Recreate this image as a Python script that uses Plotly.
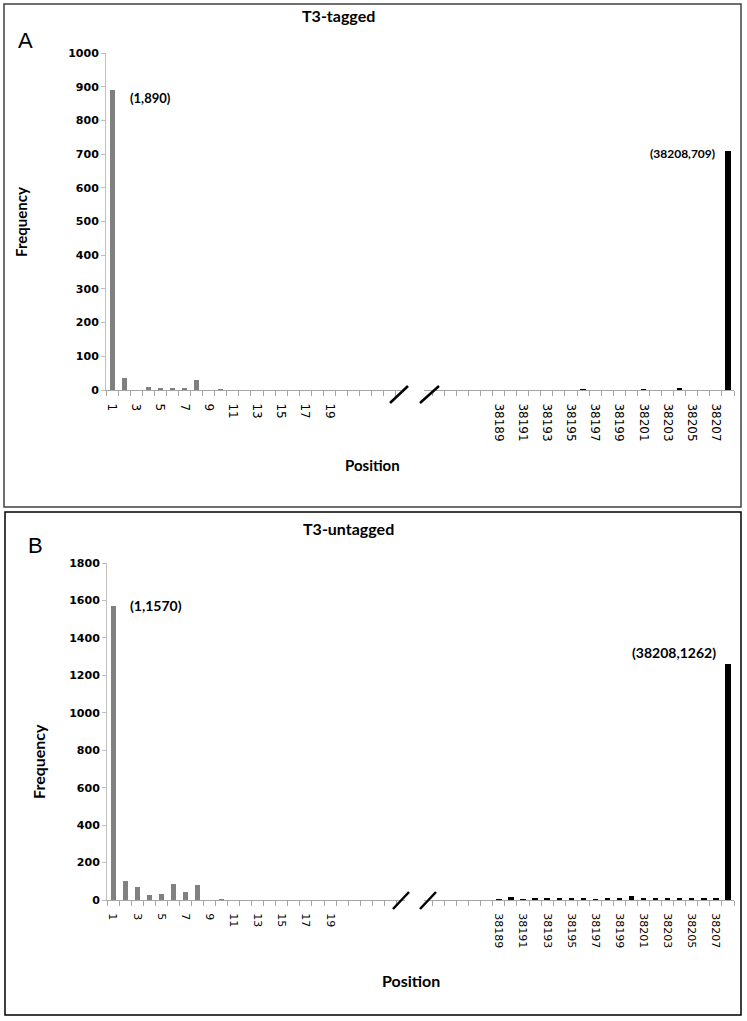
import plotly.graph_objects as go

# ---------------- data ----------------
left_positions = list(range(1, 21))
right_positions = list(range(38189, 38209))

tagged_left = [890, 35, 0, 8, 6, 3, 3, 30, 0, 2, 0, 0, 0, 0, 0, 0, 0, 0, 0, 0]
tagged_right = [0, 0, 0, 0, 0, 0, 0, 2, 0, 0, 0, 0, 1, 0, 0, 5, 0, 0, 0, 709]

untagged_left = [1570, 100, 70, 27, 30, 85, 42, 80, 0, 3, 0, 0, 0, 0, 0, 0, 0, 0, 0, 0]
untagged_right = [3, 14, 4, 10, 10, 11, 13, 10, 5, 10, 12, 24, 11, 13, 10, 11, 10, 6, 12, 1262]

left_tick_labels = ["1", "3", "5", "7", "9", "11", "13", "15", "17", "19"]
right_tick_labels = ["38189", "38191", "38193", "38195", "38197",
                     "38199", "38201", "38203", "38205", "38207"]

GAP = 12  # empty slots between the two segments of the broken axis

W, H = 747, 1021


def px(x):
    return x / W


def py(y):
    return 1 - y / H


def idx_left(p):
    return left_positions.index(p)


def idx_right(p):
    return len(left_positions) + GAP + right_positions.index(p)


left_idx = [idx_left(p) for p in left_positions]
right_idx = [idx_right(p) for p in right_positions]
n_slots = len(left_positions) + GAP + len(right_positions)

tickvals = [idx_left(int(t)) for t in left_tick_labels] + [idx_right(int(t)) for t in right_tick_labels]
ticktext = left_tick_labels + right_tick_labels

fig = go.Figure()

panels = [
    dict(left=tagged_left, right=tagged_right, xa="x", ya="y", xa2="xaxis", ya2="yaxis",
         ymax=1000, dy=100, xdom=(106, 734), y0=390, y1=53, tfs=12),
    dict(left=untagged_left, right=untagged_right, xa="x2", ya="y2", xa2="xaxis2", ya2="yaxis2",
         ymax=1800, dy=200, xdom=(107, 734), y0=900, y1=563, tfs=11),
]

for p in panels:
    fig.add_trace(go.Bar(x=left_idx, y=p["left"], marker_color="#808080", marker_line_width=0,
                         width=0.42, xaxis=p["xa"], yaxis=p["ya"], showlegend=False))
    fig.add_trace(go.Bar(x=right_idx, y=p["right"], marker_color="#000000", marker_line_width=0,
                         width=0.44, xaxis=p["xa"], yaxis=p["ya"], showlegend=False))
    fig.layout[p["xa2"]] = dict(
        domain=[px(p["xdom"][0]), px(p["xdom"][1])],
        anchor=p["ya"], range=[-0.5, n_slots - 0.5],
        showgrid=False, zeroline=False,
        showline=True, linecolor="#a6a6a6", linewidth=1,
        tickmode="array", tickvals=tickvals, ticktext=ticktext,
        tickangle=90, ticks="", ticklabelstandoff=10,
        tickfont=dict(family="DejaVu Sans", size=p["tfs"], color="#000000"),
        minor=dict(tickmode="array", tickvals=[i - 0.5 for i in range(n_slots + 1)],
                   ticks="outside", ticklen=5, tickcolor="#a6a6a6", tickwidth=1, showgrid=False),
        fixedrange=True, automargin=False,
    )
    fig.layout[p["ya2"]] = dict(
        domain=[py(p["y0"]), py(p["y1"])],
        anchor=p["xa"], range=[0, p["ymax"]],
        tickmode="array", tickvals=list(range(0, p["ymax"] + 1, p["dy"])),
        showgrid=False, zeroline=False,
        showline=True, linecolor="#c0c0c0", linewidth=1,
        ticks="outside", ticklen=4, tickcolor="#c0c0c0",
        tickfont=dict(family="DejaVu Sans", size=11, color="#000000", weight="bold"),
        fixedrange=True, automargin=False,
    )

shapes = []
# panel borders
shapes.append(dict(type="rect", xref="paper", yref="paper", x0=px(4), x1=px(741), y0=py(507), y1=py(4),
                   line=dict(color="#404040", width=1.5), fillcolor="rgba(0,0,0,0)"))
shapes.append(dict(type="rect", xref="paper", yref="paper", x0=px(5), x1=px(741), y0=py(1015), y1=py(512),
                   line=dict(color="#000000", width=1.5), fillcolor="rgba(0,0,0,0)"))
# axis break marks
for (ay, s1, s2) in [(390, (390, 403, 408, 386), (420, 403, 439, 386)),
                     (900, (393, 909, 409, 892), (420, 909, 436, 892))]:
    shapes.append(dict(type="rect", xref="paper", yref="paper", x0=px(405), x1=px(424),
                       y0=py(ay + 6), y1=py(ay - 2), line=dict(width=0), fillcolor="white"))
    for s in (s1, s2):
        shapes.append(dict(type="line", xref="paper", yref="paper", x0=px(s[0]), y0=py(s[1]),
                           x1=px(s[2]), y1=py(s[3]), line=dict(color="#000000", width=2.5)))

ann = []


def text(x, y, t, size, bold=True, family="Lato", angle=0, xanchor="center"):
    ann.append(dict(xref="paper", yref="paper", x=px(x), y=py(y), text=t, showarrow=False,
                    xanchor=xanchor, yanchor="middle", textangle=angle,
                    font=dict(family=family, size=size, color="#000000",
                              weight="bold" if bold else "normal")))


text(338, 16, "T3-tagged", 16)
text(25, 41, "A", 22, bold=False, family="Liberation Sans")
text(21, 222, "Frequency", 15, angle=-90)
text(372, 465, "Position", 15)
text(128, 98, "(1,890)", 13, xanchor="left")
text(717, 154, "(38208,709)", 12, xanchor="right")

text(348, 528, "T3-untagged", 16)
text(35, 545, "B", 22, bold=False, family="Liberation Sans")
text(38, 762, "Frequency", 16, angle=-90)
text(411, 980, "Position", 16)
text(128, 605, "(1,1570)", 14, xanchor="left")
text(718, 652, "(38208,1262)", 14, xanchor="right")

fig.update_layout(
    width=W, height=H,
    margin=dict(l=0, r=0, t=0, b=0, autoexpand=False),
    paper_bgcolor="white", plot_bgcolor="white",
    shapes=shapes, annotations=ann,
    bargap=0, showlegend=False,
)

fig.write_html(
    "out.html",
    config={"displayModeBar": False},
    post_script="document.body.style.margin='0';document.body.style.overflow='hidden';",
)
